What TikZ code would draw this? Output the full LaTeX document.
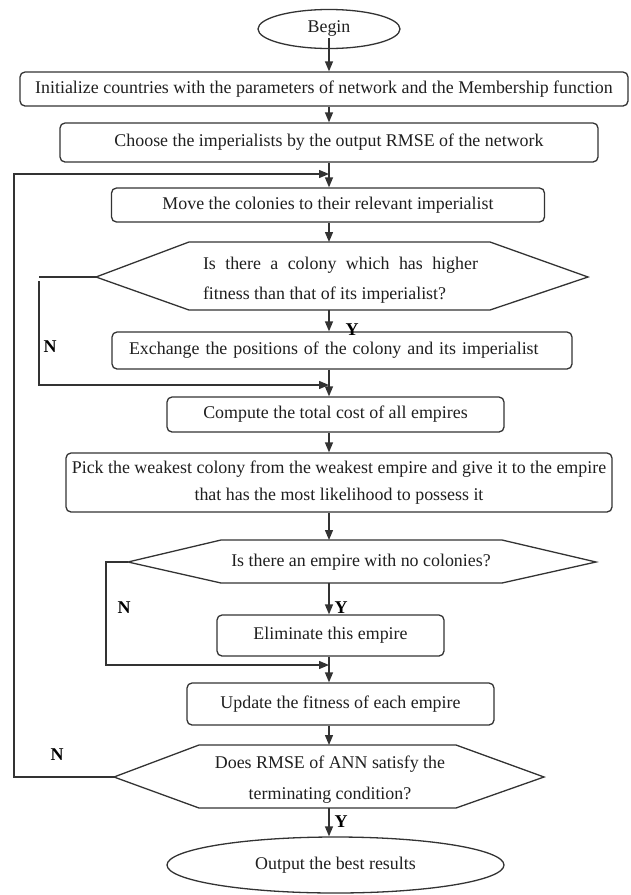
\documentclass[tikz,border=0pt]{standalone}
\usepackage{fontspec}
\setmainfont{Liberation Serif}
\usetikzlibrary{arrows.meta,shapes.geometric}
\begin{document}
\begin{tikzpicture}[x=1pt,y=-1pt,
  line/.style={draw=black!80, line width=1.3pt},
  arr/.style={line, -{Triangle[length=10pt,width=8pt]}},
  txt/.style={font=\fontsize{17.9}{29}\selectfont, text=black!88},
  proc/.style={txt, draw=black!80, line width=1.3pt, rounded corners=5pt, inner sep=0pt, align=center},
  term/.style={txt, ellipse, draw=black!80, line width=1.3pt, inner sep=0pt},
  hexa/.style={draw=black!80, line width=1.3pt},
  lbl/.style={font=\bfseries\fontsize{18}{18}\selectfont, inner sep=0pt}]
\useasboundingbox (0,0) rectangle (630,895);
\coordinate (ax) at (329,0);
\coordinate (lx) at (14,0);
\coordinate (n1x) at (39,0);
\coordinate (n2x) at (106,0);
\coordinate (loopy) at (0,174);
\coordinate (m1y) at (0,385);
\coordinate (m2y) at (0,665);

% nodes
\node[term, minimum width=142, minimum height=39] (begin) at (329,29) {Begin};
\node[proc, minimum width=608, minimum height=34] (init) at (324,89) {Initialize countries with the parameters of network and the Membership function};
\node[proc, minimum width=538, minimum height=39] (choose) at (329,142.5) {Choose the imperialists by the output RMSE of the network};
\node[proc, minimum width=433, minimum height=34] (move) at (328,205) {Move the colonies to their relevant imperialist};

% hexagon 1
\coordinate (h1w) at (96,277);
\coordinate (h1e) at (588,277);
\coordinate (h1n) at (339,242);
\coordinate (h1s) at (339,310);
\draw[hexa] (h1w) -- (189,242) -- (490,242) -- (h1e) -- (490,310) -- (189,310) -- cycle;
\node[txt, font=\fontsize{17.9}{30}\selectfont, align=left, inner sep=0pt] (q1) at (340.5,280) {\makebox[275pt][s]{Is there a colony which has higher}\\fitness than that of its imperialist?};

\node[proc, minimum width=460, minimum height=37, text width=426, align=left] (exch) at (342,350.5) {Exchange the positions of the colony and its imperialist};
\node[proc, minimum width=337, minimum height=35] (comp) at (335.5,414.5) {Compute the total cost of all empires};
\node[proc, font=\fontsize{17.9}{27}\selectfont, minimum width=546, minimum height=59] (pick) at (339,482.5) {Pick the weakest colony from the weakest empire and give it to the empire\\that has the most likelihood to possess it};

% hexagon 2
\coordinate (h2w) at (128,562);
\coordinate (h2e) at (596,562);
\coordinate (h2n) at (362,540);
\coordinate (h2s) at (362,583);
\draw[hexa] (h2w) -- (221,540) -- (502,540) -- (h2e) -- (502,583) -- (221,583) -- cycle;
\node[txt, inner sep=0pt] (q2) at (361,562) {Is there an empire with no colonies?};

\node[proc, minimum width=227, minimum height=41] (elim) at (330.5,635.5) {Eliminate this empire};
\node[proc, minimum width=307, minimum height=42] (upd) at (340.5,704) {Update the fitness of each empire};

% hexagon 3
\coordinate (h3w) at (114,777);
\coordinate (h3e) at (544,777);
\coordinate (h3n) at (328,745);
\coordinate (h3s) at (328,808);
\draw[hexa] (h3w) -- (199,745) -- (456,745) -- (h3e) -- (456,808) -- (199,808) -- cycle;
\node[txt, font=\fontsize{17.9}{31}\selectfont, align=center, inner sep=0pt] (q3) at (330,780) {Does RMSE of ANN satisfy the\\terminating condition?};

\node[term, minimum width=337, minimum height=56] (out) at (335.5,865) {Output the best results};

% connectors
\path (begin.center -| ax) ++(0,9) coordinate (bst);
\draw[arr] (bst) -- (init.north -| ax);
\draw[arr] (init.south -| ax) -- (choose.north -| ax);
\draw[arr] (choose.south -| ax) -- (move.north -| ax);
\draw[arr] (h3w) -- (h3w -| lx) -- (lx |- loopy) -- (ax |- loopy);
\draw[arr] (move.south -| ax) -- (h1n -| ax);
\draw[arr] (h1s -| ax) -- (exch.north -| ax);
\draw[line] (h1w) -- (h1w -| n1x);
\draw[arr] ([yshift=-4pt]h1w -| n1x) -- (n1x |- m1y) -- (ax |- m1y);
\draw[arr] (exch.south -| ax) -- (comp.north -| ax);
\draw[arr] (comp.south -| ax) -- (pick.north -| ax);
\draw[arr] (pick.south -| ax) -- (h2n -| ax);
\draw[arr] (h2s -| ax) -- (elim.north -| ax);
\draw[arr] (h2w) -- (h2w -| n2x) -- (n2x |- m2y) -- (ax |- m2y);
\draw[arr] (elim.south -| ax) -- (upd.north -| ax);
\draw[arr] (upd.south -| ax) -- (h3n -| ax);
\draw[arr] (h3s -| ax) -- (out.north -| ax);

% labels
\node[lbl] (y1) at (352,330) {Y};
\node[lbl] (n1) at (50,347) {N};
\node[lbl] (y2) at (341,608) {Y};
\node[lbl] (n2) at (124,608) {N};
\node[lbl] (n3) at (57,755) {N};
\node[lbl] (y3) at (341,822) {Y};
\end{tikzpicture}
\end{document}
